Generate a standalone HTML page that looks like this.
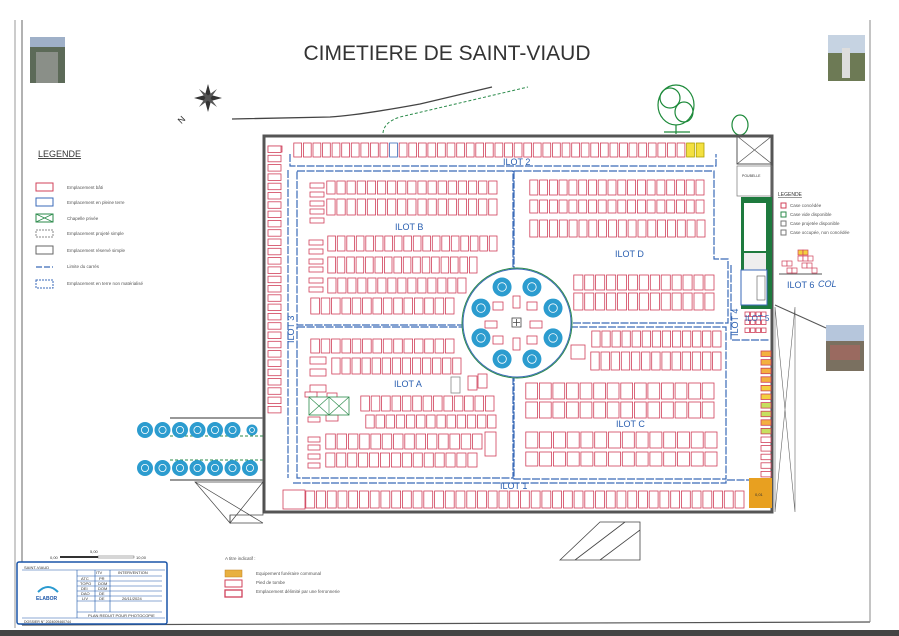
<!DOCTYPE html>
<html><head><meta charset="utf-8">
<style>
html,body{margin:0;padding:0;background:#fff;}
svg{display:block;font-family:"Liberation Sans",sans-serif;}
</style></head>
<body>
<svg id="s" width="899" height="636" viewBox="0 0 899 636" xmlns="http://www.w3.org/2000/svg">
<rect width="899" height="636" fill="#fff"/>
<line x1="15" y1="20" x2="15" y2="628" stroke="#999" stroke-width="1"/>
<line x1="22" y1="20" x2="22" y2="625" stroke="#666" stroke-width="1"/>
<line x1="22" y1="625" x2="870" y2="622" stroke="#555" stroke-width="1.2"/>
<line x1="870" y1="20" x2="870" y2="622" stroke="#888" stroke-width="1"/>
<rect x="0" y="630" width="899" height="6" fill="#444"/>

<text x="447" y="60" font-size="21" text-anchor="middle" fill="#333">CIMETIERE DE SAINT-VIAUD</text>

<rect x="30" y="37" width="35" height="46" fill="#5c6a58"/><rect x="36" y="52" width="22" height="31" fill="#8a8f88"/><rect x="30" y="37" width="35" height="10" fill="#9fb0c8"/>
<rect x="828" y="35" width="37" height="46" fill="#6d7a55"/><rect x="828" y="35" width="37" height="18" fill="#c6d3e2"/><rect x="842" y="48" width="8" height="30" fill="#ddd"/>
<rect x="826" y="325" width="38" height="46" fill="#7a7060"/><rect x="826" y="325" width="38" height="16" fill="#b6c6dc"/><rect x="830" y="345" width="30" height="15" fill="#9a6a60"/>

<g transform="translate(208,98)" fill="#333">
<polygon points="0,-14 3,-3 14,0 3,3 0,14 -3,3 -14,0 -3,-3"/>
<polygon points="-9,-9 1,-2 9,9 -1,2" fill="#555"/>
<polygon points="9,-9 2,1 -9,9 -2,-1" fill="#555"/>
</g>
<text x="178" y="124" font-size="9" fill="#333" transform="rotate(-45 180 120)">N</text>

<path d="M232,119 L330,117 Q360,115 420,104 L492,87" stroke="#444" stroke-width="1.3" fill="none"/>
<path d="M383,133 Q384,122 400,117 L528,87" stroke="#2a8a4a" stroke-width="1" stroke-dasharray="3,2" fill="none"/>
<g stroke="#1d8a3a" fill="none" stroke-width="1.2">
<ellipse cx="676" cy="105" rx="18" ry="20"/><ellipse cx="670" cy="98" rx="10" ry="10"/><ellipse cx="684" cy="112" rx="9" ry="10"/>
<path d="M676,125 L676,134 M664,132 L690,132"/>
<ellipse cx="740" cy="125" rx="8" ry="10"/>
</g>

<text x="38" y="157" font-size="9" fill="#333" text-decoration="underline">LEGENDE</text>
<g font-size="4.5" fill="#555">
<rect x="36" y="183" width="17" height="8" fill="none" stroke="#d0405a"/><text x="67" y="189">Emplacement bâti</text>
<rect x="36" y="198" width="17" height="8" fill="none" stroke="#3a6ab8"/><text x="67" y="204">Emplacement en pleine terre</text>
<rect x="36" y="214" width="17" height="8" fill="none" stroke="#2a8a4a"/><path d="M36,214 L53,222 M53,214 L36,222" stroke="#2a8a4a" stroke-width=".7"/><text x="67" y="220">Chapelle privée</text>
<rect x="36" y="230" width="17" height="7" fill="none" stroke="#888" stroke-dasharray="2,1"/><text x="67" y="235">Emplacement projeté simple</text>
<rect x="36" y="246" width="17" height="8" fill="none" stroke="#666"/><text x="67" y="252">Emplacement réservé simple</text>
<line x1="36" y1="267" x2="53" y2="267" stroke="#3a6ab8" stroke-width="1.2" stroke-dasharray="6,2"/><text x="67" y="268">Limite du carrés</text>
<rect x="36" y="280" width="17" height="8" fill="none" stroke="#3a6ab8" stroke-dasharray="2,1"/><text x="67" y="285">Emplacement en terre non matérialisé</text>
</g>

<rect x="264" y="136" width="508" height="376" fill="none" stroke="#555" stroke-width="3"/>
<g stroke="#3a6ab8" stroke-width="1.2" fill="none" stroke-dasharray="8,1.5">
<path d="M290,154 L290,166 L716,166 L716,154"/>
<rect x="297" y="171" width="216" height="154"/>
<path d="M514,171 L714,171 L714,259 L728,259 L728,323 L573,323 M514,171 L514,268"/>
<rect x="297" y="327" width="216" height="151"/>
<path d="M570,327 L726,327 L726,479 L514,479 L514,375"/>
<path d="M293,483 L726,483 L726,480 L753,480"/>
<path d="M288,170 L288,478"/>
<path d="M731,265 L731,340 L770,340"/>
</g>
<circle cx="517" cy="323" r="55" fill="#fff" stroke="#2a8a4a" stroke-width="1"/>
<circle cx="517" cy="323" r="54" fill="none" stroke="#3a6ab8" stroke-width="1"/>
<g id="discs"></g>
<rect x="512" y="318" width="9" height="9" fill="none" stroke="#444" stroke-width=".8"/><path d="M516.5,319 V326 M513,322.5 H520" stroke="#444" stroke-width=".8"/>

<g id="plots"></g>

<g font-size="9" fill="#2a5fb0">
<text x="503" y="165">ILOT 2</text>
<text x="395" y="230">ILOT B</text>
<text x="615" y="257">ILOT D</text>
<text x="394" y="387">ILOT A</text>
<text x="616" y="427">ILOT C</text>
<text x="500" y="489">ILOT 1</text>
<text x="0" y="0" transform="translate(294,343) rotate(-90)">ILOT 3</text>
<text x="0" y="0" transform="translate(738,336) rotate(-90)">ILOT 4</text>
<text x="745" y="321" font-size="8">ILOT 5</text>
<text x="0" y="0" transform="translate(752,300) rotate(-90)">ILOT 6</text>
</g>

<rect x="737" y="136" width="35" height="28" fill="none" stroke="#555"/><path d="M737,136 L772,164 M772,136 L737,164" stroke="#555" stroke-width=".7"/>
<rect x="737" y="166" width="35" height="30" fill="none" stroke="#777" stroke-width=".7"/>
<text x="742" y="177" font-size="3.5" fill="#333">POUBELLE</text>
<rect x="741" y="197" width="31" height="112" fill="#1e7a3e"/>
<rect x="744" y="203" width="22" height="48" fill="#fff"/>
<rect x="744" y="253" width="22" height="24" fill="#eee"/>
<rect x="741" y="270" width="26" height="35" fill="#fff" stroke="#3a6ab8"/>
<rect x="757" y="276" width="8" height="24" fill="none" stroke="#555" stroke-width=".6"/>
<path d="M775,307 L775,512 M795,307 L795,512 M775,307 L795,512 M795,307 L775,512" stroke="#666" stroke-width=".6"/>
<line x1="775" y1="305" x2="826" y2="328" stroke="#555"/>
<rect x="749" y="478" width="23" height="30" fill="#e8a020"/>
<text x="755" y="496" font-size="4" fill="#333">0,01</text>

<g font-size="4.5" fill="#555">
<text x="778" y="196" font-size="5" fill="#333" text-decoration="underline">LEGENDE</text>
<rect x="781" y="203" width="5" height="5" fill="none" stroke="#d0405a"/><text x="790" y="207">Case concédée</text>
<rect x="781" y="212" width="5" height="5" fill="none" stroke="#2a8a4a"/><text x="790" y="216">Case vide disponible</text>
<rect x="781" y="221" width="5" height="5" fill="none" stroke="#777"/><text x="790" y="225">Case projetée disponible</text>
<rect x="781" y="230" width="5" height="5" fill="none" stroke="#777"/><text x="790" y="234">Case occupée, non concédée</text>
</g>
<g stroke="#d0405a" stroke-width=".7" fill="#fff">
<rect x="798" y="250" width="5" height="5" fill="#f3d040"/><rect x="803" y="250" width="5" height="5" fill="#f3d040"/>
<rect x="782" y="261" width="5" height="5"/><rect x="787" y="261" width="5" height="5"/><rect x="798" y="256" width="5" height="5"/><rect x="803" y="256" width="5" height="5"/><rect x="808" y="256" width="5" height="5"/>
<rect x="787" y="268" width="5" height="5"/><rect x="792" y="268" width="5" height="5"/><rect x="802" y="263" width="5" height="5"/><rect x="807" y="263" width="5" height="5"/><rect x="812" y="268" width="5" height="5"/>
</g>
<line x1="779" y1="274" x2="822" y2="274" stroke="#555"/>
<text x="787" y="288" font-size="9" fill="#2a5fb0">ILOT 6</text>
<text x="818" y="287" font-size="9" fill="#2a5fb0" font-style="italic">COL</text>

<line x1="170" y1="418" x2="263" y2="418" stroke="#777" stroke-width="1.5"/>
<line x1="170" y1="480" x2="263" y2="480" stroke="#777" stroke-width="1.5"/>
<line x1="170" y1="436" x2="263" y2="436" stroke="#2a8a4a" stroke-dasharray="3,2"/>
<line x1="170" y1="460" x2="263" y2="460" stroke="#2a8a4a" stroke-dasharray="3,2"/>
<g id="ldiscs"></g>
<path d="M195,482 L263,482 L263,515 L230,515 L230,523 L195,482 Z" fill="none" stroke="#444" stroke-width=".7"/>
<path d="M195,482 L263,523 M263,482 L230,523 M230,515 L230,523 L263,523" fill="none" stroke="#444" stroke-width=".7"/>
<path d="M560,560 L600,522 L640,522 L640,560 Z M575,560 L625,522 M600,560 L640,530" fill="none" stroke="#444" stroke-width=".8"/>

<text x="225" y="560" font-size="4.5" fill="#555">A titre indicatif :</text>
<rect x="225" y="570" width="17" height="7" fill="#e8b040" stroke="#c08020" stroke-width=".5"/><text x="256" y="575" font-size="4.5" fill="#555">Equipement funéraire communal</text>
<rect x="225" y="580" width="17" height="7" fill="none" stroke="#d0405a"/><text x="256" y="584" font-size="4.5" fill="#555">Pied de tombe</text>
<rect x="225" y="590" width="17" height="7" fill="none" stroke="#d0405a" stroke-width="1.3"/><text x="256" y="593" font-size="4.5" fill="#555">Emplacement délimité par une ferronnerie</text>

<text x="90" y="553" font-size="4" fill="#333">5,00</text>
<text x="50" y="559" font-size="4" fill="#333">0,00</text>
<rect x="60" y="556" width="38" height="2" fill="#333"/><rect x="98" y="556" width="36" height="2" fill="#fff" stroke="#333" stroke-width=".4"/>
<text x="136" y="559" font-size="4" fill="#333">10,00</text>

<g font-size="4" fill="#333">
<rect x="17" y="562" width="150" height="62" fill="#fff" stroke="#1a55a8" stroke-width="1.5" rx="2"/>
<text x="24" y="569">SAINT-VIAUD</text>
<line x1="22" y1="570" x2="165" y2="570" stroke="#1a55a8" stroke-width=".6"/>
<line x1="77" y1="570" x2="77" y2="618" stroke="#1a55a8" stroke-width=".6"/>
<line x1="95" y1="570" x2="95" y2="612" stroke="#1a55a8" stroke-width=".6"/>
<line x1="110" y1="570" x2="110" y2="612" stroke="#1a55a8" stroke-width=".6"/>
<line x1="77" y1="576" x2="162" y2="576" stroke="#1a55a8" stroke-width=".5"/>
<line x1="77" y1="581" x2="162" y2="581" stroke="#1a55a8" stroke-width=".5"/>
<line x1="77" y1="586" x2="162" y2="586" stroke="#1a55a8" stroke-width=".5"/>
<line x1="77" y1="591" x2="162" y2="591" stroke="#1a55a8" stroke-width=".5"/>
<line x1="77" y1="596" x2="162" y2="596" stroke="#1a55a8" stroke-width=".5"/>
<line x1="77" y1="601" x2="162" y2="601" stroke="#1a55a8" stroke-width=".5"/>
<line x1="77" y1="612" x2="162" y2="612" stroke="#1a55a8" stroke-width=".5"/>
<line x1="22" y1="618" x2="165" y2="618" stroke="#1a55a8" stroke-width=".5"/>
<text x="96" y="574">ITV</text><text x="118" y="574">INTERVENTION</text>
<text x="81" y="580">ATC</text><text x="99" y="580">PR</text>
<text x="80" y="585">TOPO</text><text x="98" y="585">DOM</text>
<text x="81" y="590">DEI</text><text x="98" y="590">DOM</text>
<text x="81" y="595">DAO</text><text x="99" y="595">DE</text>
<text x="82" y="600">LIV</text><text x="99" y="600">DE</text><text x="122" y="600">26/11/2024</text>
<text x="88" y="617">PLAN REDUIT POUR PHOTOCOPIE</text>
<text x="24" y="623" font-size="3.5">DOSSIER N° 2024009460744</text>
<path d="M38,592 Q48,582 58,592" fill="none" stroke="#2a9ad0" stroke-width="2"/>
<text x="36" y="600" font-size="5" fill="#1a55a8" font-weight="bold">ELABOR</text>
</g>
</svg>
<script>
(function(){
var NS="http://www.w3.org/2000/svg",P=document.getElementById('plots');
function R(x,y,w,h,c,f,sw){var r=document.createElementNS(NS,'rect');r.setAttribute('x',x);r.setAttribute('y',y);r.setAttribute('width',w);r.setAttribute('height',h);r.setAttribute('fill',f||'#fff');r.setAttribute('stroke',c||'#d0405a');r.setAttribute('stroke-width',sw||0.8);P.appendChild(r);}
function Ln(d,c,w){var p=document.createElementNS(NS,'path');p.setAttribute('d',d);p.setAttribute('stroke',c);p.setAttribute('stroke-width',w);p.setAttribute('fill','none');P.appendChild(p);}
function row(x0,x1,y,h,n,special){var s=(x1-x0)/n;for(var i=0;i<n;i++){var c='#d0405a',f='#fff';if(special&&special[i]){c=special[i][0];f=special[i][1];}R((x0+i*s+0.8).toFixed(1),y,(s-1.8).toFixed(1),h,c,f);}}
var sp={};sp[10]=['#3a6ab8','#fff'];sp[41]=['#b0a000','#f3e040'];sp[42]=['#b0a000','#f3e040'];
R(268,146,14,6);row(293,705,143,14,43,sp);
for(var i=0;i<29;i++){R(268,146+i*9.3,13,6.5);}
[183,192,201,209,218].forEach(function(y){R(310,y,14,5);});
row(326,498,181,13,17);row(326,498,199,16,17);
[240,249,259,267,278,287].forEach(function(y){R(309,y,14,5);});
row(327,498,236,15,18);row(327,478,257,16,16);row(327,467,278,15,14);row(310,455,298,16,14);
row(529,705,180,15,18);row(529,705,200,13,18);row(529,706,220,17,18);
row(573,715,275,15,13);row(573,715,293,17,13);
row(310,455,339,14,14);
[357,369,385].forEach(function(y){R(310,y,16,7);});
R(305,392,12,5);R(327,393,10,5);
row(331,462,358,16,13);
row(360,495,396,15,13);row(365,497,415,13,13);row(325,483,434,15,14);row(325,478,453,14,14);
R(485,432,11,24);
[437,445,454,463].forEach(function(y){R(308,y,12,5);});
R(308,417,12,5);R(326,415,12,6);
R(309,397,40,18,'#2a8a4a','#fff');
Ln('M309,397 L329,415 M329,397 L309,415 M329,397 L349,415 M349,397 L329,415 M329,397 V415','#2a8a4a',0.6);
R(468,376,9,14);R(478,374,9,14);R(451,377,9,16,'#888','#fff');
row(591,722,331,16,13);R(571,345,14,14);
row(590,722,352,18,13);row(525,715,383,16,14);row(525,715,402,16,14);
row(525,718,432,16,14);row(525,718,452,14,14);
R(283,490,22,19);row(305,745,491,17,41);
for(var r=0;r<3;r++)for(var k=0;k<4;k++)R(745+k*5.5,312+r*8,4.5,4.5);
var cols=['#f3b040','#f3b040','#f3b040','#f3b040','#f3d040','#f3d040','#c6e060','#c6e060','#f3b040','#c6e060','#fff','#fff','#fff','#fff','#fff'];
for(var i=0;i<15;i++)R(761,351+i*8.6,10,5.5,'#d0405a',cols[i]);
R(485,321,12,7);R(530,321,12,7);R(513,296,7,12);R(513,338,7,12);
[[498,306],[532,306],[498,340],[532,340]].forEach(function(p){R(p[0]-5,p[1]-4,10,8);});
function disc(g,x,y,r){var e=document.createElementNS(NS,'circle');e.setAttribute('cx',x);e.setAttribute('cy',y);e.setAttribute('r',r);e.setAttribute('fill','#2c9ccf');g.appendChild(e);var e2=document.createElementNS(NS,'circle');e2.setAttribute('cx',x);e2.setAttribute('cy',y);e2.setAttribute('r',r*0.45);e2.setAttribute('fill','none');e2.setAttribute('stroke','#fff');e2.setAttribute('stroke-width','0.8');g.appendChild(e2);}
var D=document.getElementById('discs');
for(var a=0;a<8;a++){var t=a*Math.PI/4+Math.PI/8;disc(D,517+Math.cos(t)*39,323+Math.sin(t)*39,9.5);}
var L=document.getElementById('ldiscs');
for(var i=0;i<6;i++)disc(L,145+i*17.5,430,8);disc(L,252,430,5.5);
for(var i=0;i<7;i++)disc(L,145+i*17.5,468,8);
})();
</script>
</body></html>
